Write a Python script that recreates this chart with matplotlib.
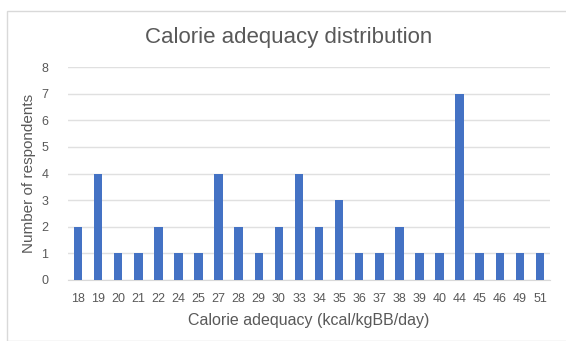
import matplotlib
matplotlib.use("Agg")
import matplotlib.pyplot as plt
from matplotlib.patches import Rectangle

categories = ["18", "19", "20", "21", "22", "24", "25", "27", "28", "29", "30", "33",
              "34", "35", "36", "37", "38", "39", "40", "44", "45", "46", "49", "51"]
counts = [2, 4, 1, 1, 2, 1, 1, 4, 2, 1, 2, 4, 2, 3, 1, 1, 2, 1, 1, 7, 1, 1, 1, 1]

plt.rcParams["font.family"] = ["Liberation Sans", "DejaVu Sans"]

fig = plt.figure(figsize=(5.66, 3.41), dpi=100)
fig.patches.append(Rectangle((7 / 566, 0), 1, 1 - 11 / 341, transform=fig.transFigure,
                             fill=False, edgecolor="#d9d9d9", linewidth=1))
ax = fig.add_axes([68 / 566, 1 - 280 / 341, (550 - 68) / 566, (280 - 67) / 341])

x = range(len(categories))
ax.bar(x, counts, width=0.42, color="#4472c4", zorder=3)
ax.set_xlim(-0.5, len(categories) - 0.5)
ax.set_ylim(0, 8)
ax.set_yticks(range(9))
ax.set_xticks(list(x))
ax.set_xticklabels(categories)
ax.grid(axis="y", color="#e0e0e0", linewidth=1, zorder=0)
for s in ax.spines.values():
    s.set_visible(False)
ax.spines["bottom"].set_visible(True)
ax.spines["bottom"].set_color("#d9d9d9")
ax.tick_params(length=0, colors="#595959", labelsize=9)
ax.tick_params(axis="x", pad=9)
ax.tick_params(axis="y", pad=14)

fig.text(289 / 566, 1 - 38 / 341, "Calorie adequacy distribution", fontsize=16,
         color="#595959", ha="center", va="center")
ax.set_xlabel("Calorie adequacy (kcal/kgBB/day)", fontsize=11.5, color="#595959", labelpad=6)
ax.set_ylabel("Number of respondents", fontsize=11, color="#595959", labelpad=4)

fig.savefig("out.png", dpi=100)
